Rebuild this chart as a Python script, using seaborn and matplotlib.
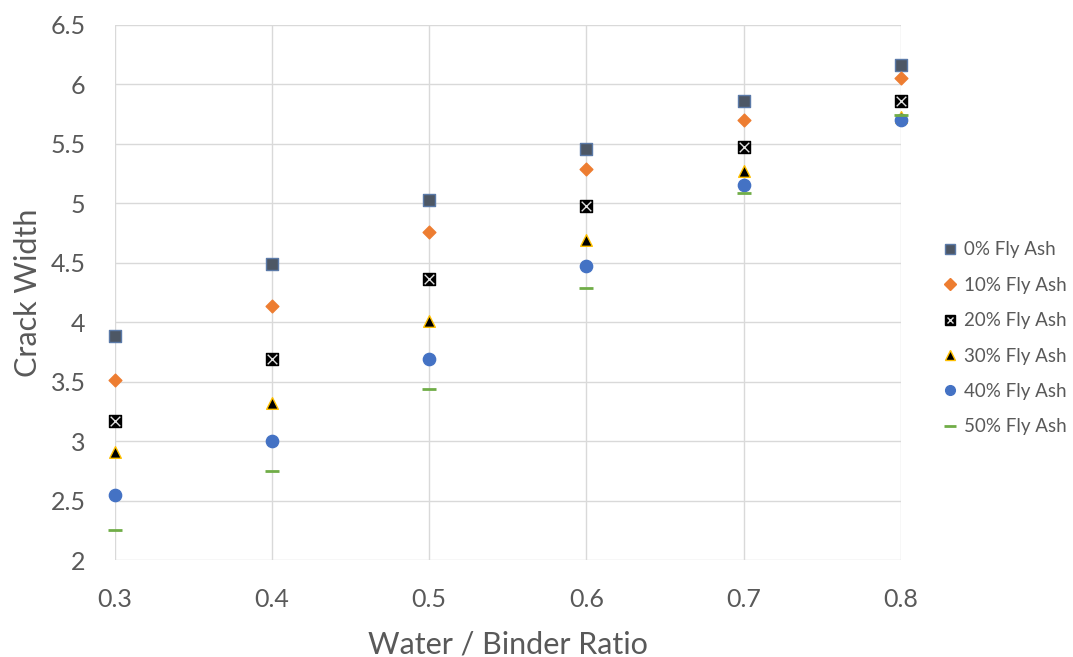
import matplotlib
matplotlib.use("Agg")
import matplotlib.pyplot as plt
from matplotlib.lines import Line2D
import seaborn as sns
import pandas as pd

ratio = [0.3, 0.4, 0.5, 0.6, 0.7, 0.8]
fa0 = [3.88, 4.49, 5.03, 5.46, 5.86, 6.16]
fa10 = [3.51, 4.14, 4.76, 5.29, 5.70, 6.05]
fa20 = [3.17, 3.69, 4.36, 4.98, 5.47, 5.86]
fa30 = [2.91, 3.32, 4.01, 4.69, 5.27, 5.73]
fa40 = [2.55, 3.00, 3.69, 4.47, 5.15, 5.70]
fa50 = [2.25, 2.75, 3.44, 4.29, 5.09, 5.74]
labels = ["0% Fly Ash", "10% Fly Ash", "20% Fly Ash", "30% Fly Ash", "40% Fly Ash", "50% Fly Ash"]

frames = []
for lab, vals in zip(labels, [fa0, fa10, fa20, fa30, fa40, fa50]):
    frames.append(pd.DataFrame({"ratio": ratio, "width": vals, "series": lab}))
df = pd.concat(frames, ignore_index=True)

# marker, face, edge, size
styles = {
    "0% Fly Ash": ("s", "#4d5765", "#5b7aa8", 68),
    "10% Fly Ash": ("D", "#ED7D31", "#ED7D31", 42),
    "20% Fly Ash": ("s", "black", "black", 72),
    "30% Fly Ash": ("^", "black", "#FFC000", 70),
    "40% Fly Ash": ("o", "#4472C4", "#4472C4", 78),
    "50% Fly Ash": ("_", "#70AD47", "#70AD47", 100),
}

sns.set_style("white")
plt.rcParams["font.family"] = ["Lato", "DejaVu Sans"]
grey = "#595959"

fig = plt.figure(figsize=(10.73, 6.57), dpi=100)
ax = fig.add_axes([0.107, 0.1476, 0.7325, 0.8144])

for lab in labels:
    m, fc, ec, s = styles[lab]
    sub = df[df.series == lab]
    if m == "_":
        sns.scatterplot(data=sub, x="ratio", y="width", ax=ax, marker=m, color=fc,
                        s=s, linewidth=2, legend=False, zorder=3, clip_on=False)
    else:
        sns.scatterplot(data=sub, x="ratio", y="width", ax=ax, marker=m, color=fc,
                        edgecolor=ec, s=s, linewidth=1, legend=False, zorder=3, clip_on=False)
    if lab == "20% Fly Ash":
        sns.scatterplot(data=sub, x="ratio", y="width", ax=ax, marker="x", color="#e0e0e0",
                        s=48, linewidth=1, legend=False, zorder=4, clip_on=False)

ax.set_xlim(0.3, 0.8)
ax.set_ylim(2, 6.5)
ax.set_xticks(ratio)
ax.set_xticklabels([f"{r:.1f}" for r in ratio])
ax.set_yticks([2, 2.5, 3, 3.5, 4, 4.5, 5, 5.5, 6, 6.5])
ax.set_yticklabels(["2", "2.5", "3", "3.5", "4", "4.5", "5", "5.5", "6", "6.5"])
ax.grid(True, color="#d9d9d9", linewidth=1)
ax.set_axisbelow(True)
for sp in ax.spines.values():
    sp.set_visible(False)
ax.tick_params(axis="x", length=6, color="#d9d9d9", labelsize=18, labelcolor=grey, pad=14)
ax.tick_params(axis="y", length=0, labelsize=18, labelcolor=grey, pad=21)
ax.set_xlabel("Water / Binder Ratio", fontsize=22, color=grey, labelpad=14)
ax.set_ylabel("Crack Width", fontsize=22, color=grey, labelpad=6)

handles = []
for lab in labels:
    m, fc, ec, s = styles[lab]
    if m == "_":
        h = Line2D([], [], linestyle="none", marker=m, color=fc, markersize=9, markeredgewidth=2)
    else:
        h = Line2D([], [], linestyle="none", marker=m, markerfacecolor=fc, markeredgecolor=ec,
                   markersize=7 if m != "D" else 6)
    if lab == "20% Fly Ash":
        h = (h, Line2D([], [], linestyle="none", marker="x", color="#e0e0e0", markersize=5, markeredgewidth=1))
    handles.append(h)

fig.legend(handles, labels, loc="center left", bbox_to_anchor=(0.863, 0.485), frameon=False,
           fontsize=13.5, labelcolor=grey, handlelength=0.8, handletextpad=0.35, labelspacing=0.98)

fig.savefig("out.png", dpi=100)
